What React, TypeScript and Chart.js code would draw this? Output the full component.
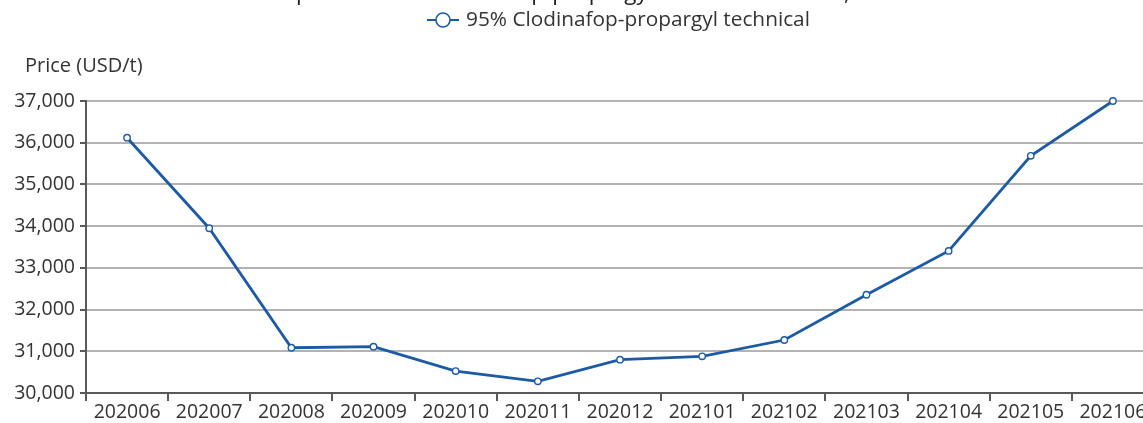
import { useEffect, useRef } from "react";
import { Chart, registerables } from "chart.js";

Chart.register(...registerables);

const months = [
  "202006", "202007", "202008", "202009", "202010", "202011", "202012",
  "202101", "202102", "202103", "202104", "202105", "202106",
];
const prices = [
  36120, 33950, 31085, 31110, 30525, 30280, 30800,
  30880, 31270, 32355, 33405, 35685, 37000,
];
const yMin = 30000;
const yMax = 37000;
const yStep = 1000;
const seriesName = "95% Clodinafop-propargyl technical";
const yAxisTitle = "Price (USD/t)";
const titleLead = "Ex-works ";
const titleBody = "price of 95% Clodinafop-propargyl technical in China, 2020–2021";

const FONT = "'Open Sans', 'Noto Sans', sans-serif";
const BLUE = "#1c5aa3";
const TEXT = "#333333";
const AXIS = "#595959";
const GRID = "#b3b3b3";

const W = 1164;
const H = 423;

const overlay = {
  id: "overlay",
  afterDraw(chart: any) {
    const ctx = chart.ctx as CanvasRenderingContext2D;
    const area = chart.chartArea;
    ctx.save();
    // cropped title at the very top
    ctx.fillStyle = "#222";
    ctx.font = `22.5px ${FONT}`;
    ctx.textAlign = "left";
    ctx.textBaseline = "alphabetic";
    const lead = ctx.measureText(titleLead).width;
    ctx.fillText(titleLead + titleBody, 296 - lead, 0);

    // legend
    const ly = 20;
    ctx.strokeStyle = BLUE;
    ctx.lineWidth = 2;
    ctx.beginPath();
    ctx.moveTo(427, ly);
    ctx.lineTo(459, ly);
    ctx.stroke();
    ctx.beginPath();
    ctx.arc(443, ly, 7, 0, Math.PI * 2);
    ctx.fillStyle = "#ffffff";
    ctx.fill();
    ctx.lineWidth = 1.6;
    ctx.stroke();
    ctx.fillStyle = TEXT;
    ctx.font = `20.8px ${FONT}`;
    ctx.textAlign = "left";
    ctx.textBaseline = "middle";
    ctx.fillText(chart.data.datasets[0].label, 466, ly);

    // y axis title
    ctx.font = `20px ${FONT}`;
    ctx.fillText(yAxisTitle, 25, area.top - 35);
    ctx.restore();
  },
};

export default function App() {
  const ref = useRef<HTMLCanvasElement | null>(null);

  useEffect(() => {
    if (!ref.current) return;
    const chart = new Chart(ref.current, {
      type: "line",
      data: {
        labels: months,
        datasets: [
          {
            label: seriesName,
            data: prices,
            borderColor: BLUE,
            borderWidth: 2.8,
            backgroundColor: "#ffffff",
            pointBackgroundColor: "#ffffff",
            pointBorderColor: BLUE,
            pointBorderWidth: 1.4,
            pointRadius: 3.2,
            tension: 0,
            fill: false,
            clip: false,
          },
        ],
      },
      options: {
        responsive: false,
        animation: false,
        layout: { padding: { top: 101, right: 10, left: 0, bottom: 0 } },
        plugins: {
          legend: { display: false },
          title: { display: false },
          tooltip: { enabled: false },
        },
        scales: {
          x: {
            type: "category",
            offset: true,
            afterFit: (s: any) => {
              s.height = 30;
            },
            grid: {
              offset: true,
              drawOnChartArea: false,
              drawTicks: true,
              tickLength: 8,
              tickColor: AXIS,
              lineWidth: 2,
            },
            border: { color: AXIS, width: 2 },
            ticks: {
              color: TEXT,
              font: { family: FONT, size: 19.5 },
              padding: 0,
              maxRotation: 0,
              autoSkip: false,
            },
          },
          y: {
            min: yMin,
            max: yMax,
            afterFit: (s: any) => {
              s.width = 86;
            },
            grid: {
              color: GRID,
              lineWidth: 2,
              tickLength: 6,
              tickColor: AXIS,
            },
            border: { color: AXIS, width: 2 },
            ticks: {
              stepSize: yStep,
              color: TEXT,
              padding: 5,
              font: { family: FONT, size: 19.5 },
              callback: (v: any) => Number(v).toLocaleString("en-US"),
            },
          },
        },
      },
      plugins: [overlay],
    });
    return () => chart.destroy();
  }, []);

  return (
    <div
      style={{
        position: "fixed",
        left: 0,
        top: 0,
        width: W,
        height: H,
        overflow: "hidden",
        background: "#ffffff",
      }}
    >
      <canvas ref={ref} width={W} height={H} style={{ width: W, height: H, display: "block" }} />
    </div>
  );
}
